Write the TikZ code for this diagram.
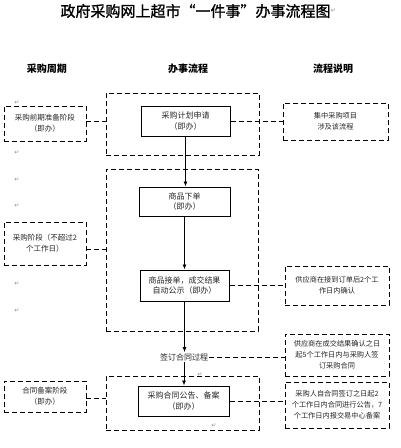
\documentclass[tikz,border=0pt]{standalone}
\usepackage{fontspec}
\setmainfont{Noto Sans CJK SC}
\newfontfamily\symfont{DejaVu Sans}
\newfontfamily\titlefont[FakeBold=1.2]{Noto Sans CJK SC}
\usetikzlibrary{arrows.meta}
\begin{document}
\begin{tikzpicture}[x=1pt,y=-1pt,
  dbox/.style={draw, dash pattern=on 5pt off 3pt, line width=0.8pt, inner sep=0pt, align=center, text=black!85},
  sbox/.style={draw, line width=1pt, inner sep=0pt, align=center, text=black!85, font=\fontsize{8}{10.5}\selectfont},
  lbox/.style={dbox, font=\fontsize{7.5}{11}\selectfont},
  rbox/.style={dbox, font=\fontsize{7.2}{11}\selectfont},
  dline/.style={draw, dash pattern=on 5pt off 3pt, line width=0.8pt},
  arr/.style={draw, line width=0.8pt, -{Latex[length=5pt,width=4pt]}},
  pmark/.style={text=black!45, font=\symfont\fontsize{6}{6}\selectfont, inner sep=0pt},
  hdr/.style={font=\bfseries\fontsize{10}{12}\selectfont, inner sep=0pt}]
\useasboundingbox (0,0) rectangle (401,448);
\fill[white] (0,0) rectangle (401,448);

% title and headers
\node[font=\titlefont\fontsize{15}{16}\selectfont, inner sep=0pt] (title) at (195.5,11) {政府采购网上超市\makebox[1em][r]{“}一件事\makebox[1em][l]{”}办事流程图};
\node[pmark, anchor=west] (m0) at (title.east) {↵};
\node[hdr] (h1) at (47,69) {采购周期};
\node[hdr] (h2) at (188,69) {办事流程};
\node[hdr] (h3) at (333,69) {流程说明};

% dashed stage boxes
\node[dbox, minimum width=153pt, minimum height=62pt] (D1) at (182.5,124) {};
\node[dbox, minimum width=152pt, minimum height=162pt] (D2) at (182,250) {};
\node[dbox, minimum width=153pt, minimum height=54pt] (D3) at (182.5,403) {};

% process boxes
\node[sbox, minimum width=89pt, minimum height=30pt] (B1) at (185.5,121) {采购计划申请\\（即办）};
\node[sbox, minimum width=91pt, minimum height=29pt] (B2) at (184.5,201.5) {商品下单\\（即办）};
\node[sbox, minimum width=89pt, minimum height=31pt] (B3) at (184.5,285.5) {商品接单，成交结果\\自动公示（即办）};
\node[inner sep=1pt, font=\fontsize{8}{10}\selectfont, text=black!85] (T) at (184,357) {签订合同过程};
\node[sbox, minimum width=91pt, minimum height=30pt] (B5) at (183.5,401) {采购合同公告、备案\\（即办）};

% left boxes
\node[lbox, minimum width=82pt, minimum height=35pt] (L1) at (45,123.5) {采购前期准备阶段\\（即办）};
\node[lbox, minimum width=82pt, minimum height=43pt] (L2) at (45,243.5) {采购阶段（不超过2\\个工作日）};
\node[lbox, minimum width=82pt, minimum height=31pt] (L3) at (45,396.5) {合同备案阶段\\（即办）};

% right boxes
\node[rbox, minimum width=105pt, minimum height=37pt] (R1) at (335.5,121.5) {集中采购项目\\涉及该流程};
\node[rbox, minimum width=104pt, minimum height=39pt] (R2) at (337,285.5) {供应商在接到订单后2个工\\作日内确认};
\node[rbox, minimum width=104pt, minimum height=42pt] (R3) at (337,355) {供应商在成交结果确认之日\\起5个工作日内与采购人签\\订采购合同};
\node[rbox, minimum width=104pt, minimum height=46pt] (R4) at (337,405) {采购人自合同签订之日起2\\个工作日内合同进行公告，7\\个工作日内报交易中心备案};

% arrows
\draw[arr] (B1.south) -- (B1.south |- B2.north);
\draw[arr] (B2.south) -- (B2.south |- B3.north);
\draw[arr] (B3.south) -- (B3.south |- T.north);
\draw[arr] (T.south) -- (T.south |- B5.north);

% dashed connectors
\draw[dline] (L1.east |- B1.east) -- (D1.west |- B1.east);
\coordinate (c2) at (0,249);
\draw[dline] (L2.east |- c2) -- (D2.west |- c2);
\coordinate (c3) at (0,398);
\draw[dline] (L3.east |- c3) -- (D3.west |- c3);
\draw[dline] (B1.east) -- (R1.west |- B1.east);
\draw[dline] (B3.east) -- (R2.west |- B3.east);
\draw[dline] (T.east) -- (R3.west |- T.east);
\draw[dline] (B5.east) -- (R4.west |- B5.east);

% paragraph marks
\foreach \y [count=\i] in {103,153,180,206,284,311} {
  \node[pmark] (pm\i) at (17,\y) {↵};
}
\node[pmark] (pm7) at (200,375) {↵};
\node[pmark] (pm8) at (214,426) {↵};
\end{tikzpicture}
\end{document}
